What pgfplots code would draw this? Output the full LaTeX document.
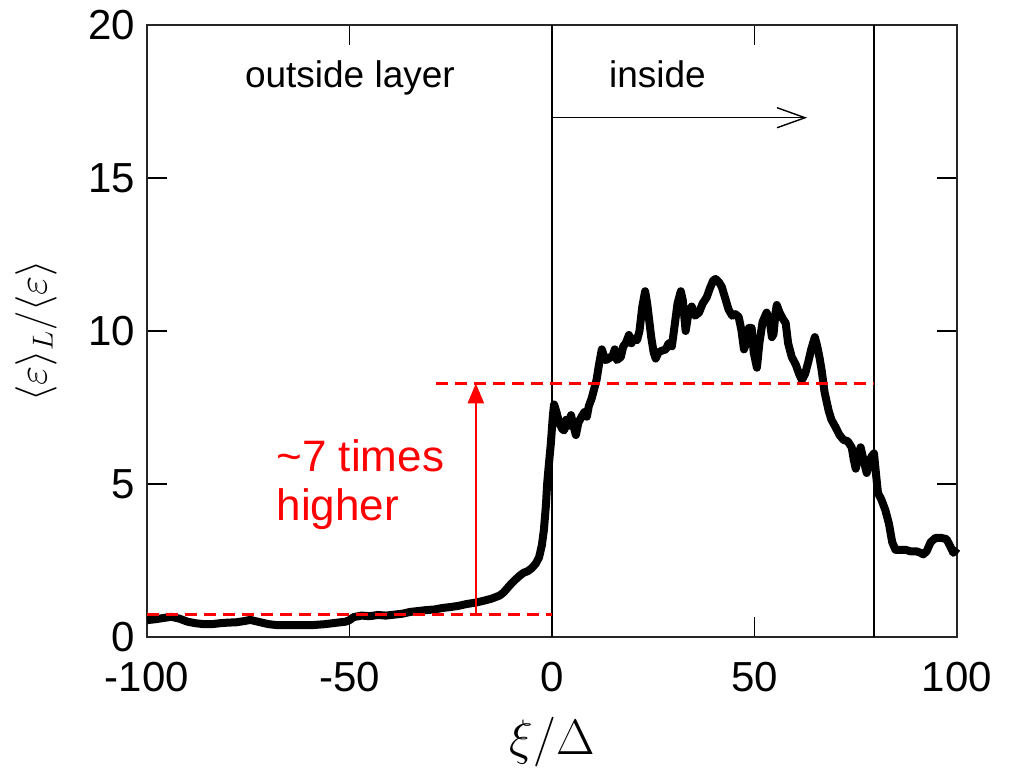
\documentclass[border=0pt]{standalone}
\usepackage{fontspec}
\setmainfont{Liberation Sans}
\usepackage{pgfplots}
\pgfplotsset{compat=1.18}
\usetikzlibrary{arrows.meta}
\begin{document}
\begin{tikzpicture}
\begin{axis}[
  scale only axis,
  width=405pt, height=306pt,
  xmin=-100, xmax=100, ymin=0, ymax=20,
  xtick={-100,-50,0,50,100},
  ytick={0,5,10,15,20},
  minor tick num=0,
  tick align=inside,
  major tick length=10pt,
  tick style={black, line width=0.8pt},
  axis line style={black!85, line width=1pt},
  /pgf/number format/assume math mode=true,
  tick label style={font=\fontsize{21}{21}\selectfont},
  xticklabel style={yshift=-9pt},
  yticklabel style={xshift=-2.5pt},
  xlabel={$\xi/\Delta$},
  ylabel={$\langle\varepsilon\rangle_L/\langle\varepsilon\rangle$},
  xlabel style={font=\fontsize{24}{24}\selectfont, at={(axis description cs:0.5,-0.172)}, anchor=center},
  ylabel style={font=\fontsize{20}{20}\selectfont, at={(axis description cs:-0.137,0.5)}, anchor=center},
  clip=false,
]
% vertical boundary lines
\addplot[black, line width=0.9pt] coordinates {(0,0) (0,20)};
\addplot[black, line width=0.9pt] coordinates {(79.5,0) (79.5,20)};
% data curve
\addplot[black, line width=4pt, line join=round] coordinates {
(-100,0.55) (-98,0.58) (-96,0.62) (-94,0.66) (-92,0.6) (-90,0.5) (-88,0.45) (-86,0.42) (-84,0.42) (-82,0.45) (-80,0.47) (-78,0.48) (-76,0.52) (-74.5,0.56) (-72,0.48) (-70,0.42) (-68,0.39) (-65,0.39) (-62,0.39) (-59,0.39) (-56,0.42) (-53,0.47) (-51,0.5) (-50,0.55) (-49,0.65) (-47,0.7) (-45,0.68) (-43,0.72) (-41,0.7) (-39,0.73) (-37,0.76) (-35,0.82) (-33,0.85) (-31,0.88) (-29,0.9) (-27,0.95) (-25,0.98) (-23,1.02) (-21,1.08) (-19,1.12) (-17,1.18) (-15,1.25) (-13,1.35) (-12,1.45) (-11,1.6) (-10,1.75) (-9,1.88) (-8,2.0) (-7,2.1) (-6,2.15) (-5,2.25) (-4,2.4) (-3.2,2.6) (-2.5,3.0) (-2,3.5) (-1.5,4.3) (-1.2,5.0) (-0.8,5.6) (-0.3,6.3) (0.2,7.2) (0.5,7.6) (1,7.4) (1.8,7.0) (2.5,6.8) (3,6.75) (3.5,7.1) (4,6.9) (4.7,7.25) (5.3,6.9) (5.9,6.6) (6.5,7.0) (7.3,7.2) (8,7.35) (8.6,7.2) (9.1,7.55) (9.8,7.8) (10.4,8.1) (11,8.4) (11.6,8.9) (12.3,9.4) (12.8,9.2) (13.3,9.05) (14,9.1) (15,9.2) (15.5,9.4) (16,9.05) (17,9.15) (17.6,9.5) (18.2,9.6) (19,9.87) (19.6,9.6) (20.3,9.75) (21,9.7) (21.6,10.0) (22.3,10.8) (23,11.3) (23.5,10.9) (23.9,10.46) (24.5,9.8) (25.1,9.3) (25.6,9.1) (26.3,9.3) (27,9.35) (28.1,9.4) (28.8,9.6) (29.6,9.5) (30.3,10.2) (31,10.9) (31.8,11.3) (32.3,11.0) (33,10.0) (33.6,10.5) (34.5,10.8) (35.3,10.5) (36.3,10.6) (37.2,10.9) (38.2,11.1) (39,11.4) (39.8,11.65) (40.4,11.7) (41.2,11.6) (41.9,11.45) (42.7,11.1) (43.6,10.7) (44.5,10.5) (45.3,10.55) (46.1,10.46) (46.8,10.0) (47.4,9.4) (47.8,9.55) (48.6,10.1) (49.3,10.1) (49.8,9.3) (50.6,8.8) (51.2,9.6) (52,10.3) (53,10.6) (53.8,10.3) (54.3,9.8) (54.7,9.9) (55.2,10.6) (55.5,10.85) (56.2,10.6) (57,10.4) (57.7,10.26) (58.3,9.6) (59.2,9.15) (60.2,8.9) (61,8.6) (61.7,8.4) (62.5,8.6) (63.3,9.0) (64,9.4) (64.9,9.8) (65.5,9.5) (66.1,9.1) (66.6,8.7) (67.3,8.0) (68.3,7.4) (69,7.1) (70,6.86) (71,6.6) (72,6.44) (73,6.4) (74,6.2) (74.5,5.8) (75,5.5) (75.6,5.9) (76.2,6.2) (76.9,5.8) (77.7,5.36) (78.3,5.7) (78.9,5.9) (79.5,6.0) (80.1,5.2) (80.5,4.7) (81.3,4.5) (82.3,4.15) (83.2,3.7) (84,3.1) (84.8,2.85) (86,2.85) (87.3,2.85) (88.5,2.8) (90,2.8) (91,2.75) (91.7,2.7) (92.5,2.8) (93.5,3.1) (94.7,3.24) (96,3.24) (97.4,3.2) (98.2,3.0) (99.1,2.75) (100,2.9)
};
% red dashed reference levels
\addplot[red, line width=1.3pt, dash pattern=on 6pt off 3.5pt] coordinates {(-100,0.73) (0,0.73)};
\addplot[red, line width=1.3pt, dash pattern=on 6pt off 3.5pt] coordinates {(-28.7,8.29) (79.5,8.29)};
% red arrow
\draw[red, line width=1.2pt, -{Triangle[length=10pt,width=8pt]}] (axis cs:-18.8,0.73) -- (axis cs:-18.8,8.29);
% black arrow inside
\draw[black, line width=0.7pt, -{Straight Barb[length=14pt,width=10pt]}] (axis cs:0,16.97) -- (axis cs:63,16.97);
% texts
\node[anchor=base west, inner sep=0pt, font=\fontsize{18.5}{18.5}\selectfont] at (axis cs:-75.9,17.97) {outside layer};
\node[anchor=base west, inner sep=0pt, font=\fontsize{18.5}{18.5}\selectfont] at (axis cs:14,17.97) {inside};
\node[anchor=base west, inner sep=0pt, red, font=\fontsize{22}{22}\selectfont] at (axis cs:-68.1,5.4) {\textasciitilde7 times};
\node[anchor=base west, inner sep=0pt, red, font=\fontsize{22}{22}\selectfont] at (axis cs:-68.1,3.82) {higher};
\end{axis}
\path ([shift={(-73.5pt,-66.5pt)}]current axis.south west) rectangle ([shift={(28pt,12.5pt)}]current axis.north east);
\end{tikzpicture}
\end{document}
